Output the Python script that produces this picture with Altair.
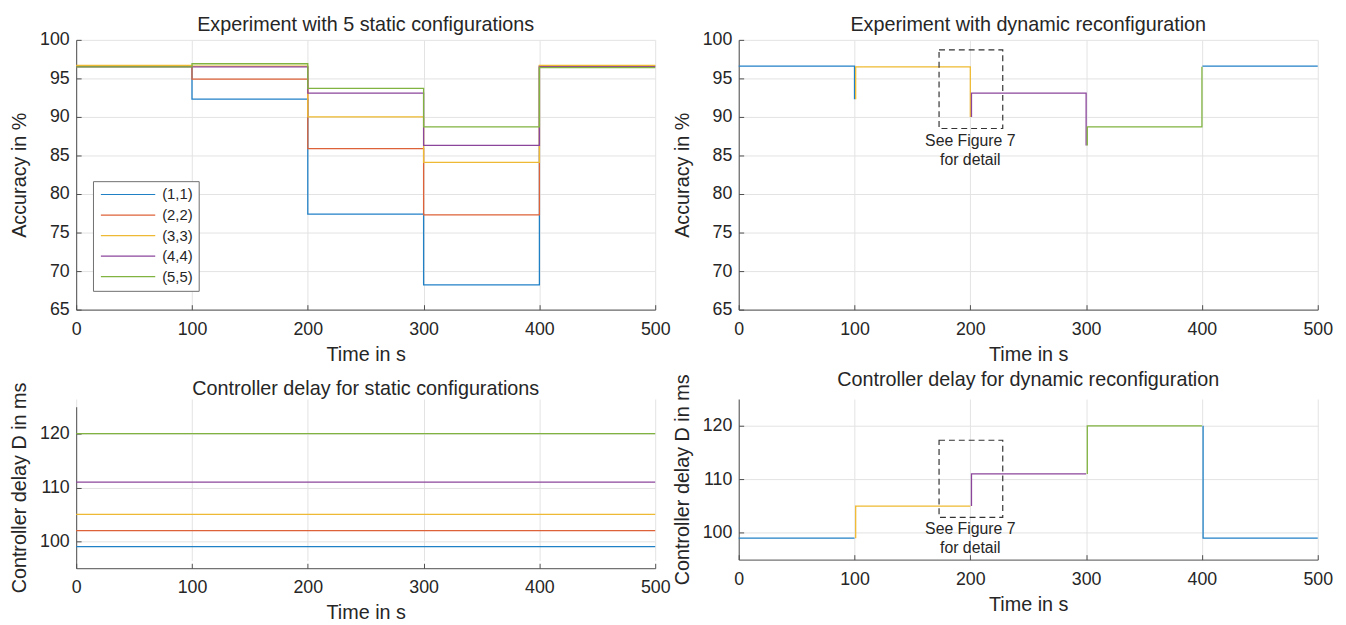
import altair as alt
import pandas as pd

FONT = "Liberation Sans"
TXT = "#262626"
AXC = "#4d4d4d"

configs = ["(1,1)", "(2,2)", "(3,3)", "(4,4)", "(5,5)"]
colors = ["#2080c6", "#dd6238", "#efba33", "#8b469b", "#80b340"]

# phase boundaries in s (last value repeated to close the step)
phase_time = [0, 100, 200, 300, 400, 500]

# accuracy in % per phase, static configurations
acc_11 = [96.6, 92.3, 77.4, 68.2, 96.6, 96.6]
acc_22 = [96.6, 94.9, 85.9, 77.3, 96.6, 96.6]
acc_33 = [96.7, 96.6, 90.0, 84.1, 96.7, 96.7]
acc_44 = [96.5, 96.5, 93.1, 86.3, 96.5, 96.5]
acc_55 = [96.5, 96.9, 93.7, 88.7, 96.4, 96.4]

# controller delay in ms, static configurations
delay_static = [99, 102, 105, 111, 120]
delay_time = [0, 500]

# dynamic reconfiguration: accuracy
dyn_acc_time = [0, 100, 100, 101, 101, 200, 200, 201, 201, 300, 300, 301, 301, 400, 400, 401, 401, 500]
dyn_acc_value = [96.6, 96.6, 92.3, 92.3, 96.5, 96.5, 90.0, 90.0, 93.1, 93.1, 86.3, 86.3, 88.7, 88.7, 96.5, 96.5, 96.6, 96.6]
dyn_acc_cfg = ["(1,1)"] * 3 + ["(3,3)"] * 4 + ["(4,4)"] * 4 + ["(5,5)"] * 4 + ["(1,1)"] * 3
dyn_acc_seg = [0] * 3 + [1] * 4 + [2] * 4 + [3] * 4 + [4] * 3

# dynamic reconfiguration: controller delay
dyn_del_time = [0, 100, 101, 101, 200, 201, 201, 300, 301, 301, 400, 401, 401, 500]
dyn_del_value = [99, 99, 99, 105, 105, 105, 111, 111, 111, 120, 120, 120, 99, 99]
dyn_del_cfg = ["(1,1)"] * 2 + ["(3,3)"] * 3 + ["(4,4)"] * 3 + ["(5,5)"] * 3 + ["(1,1)"] * 3
dyn_del_seg = [0] * 2 + [1] * 3 + [2] * 3 + [3] * 3 + [4] * 3

# "See Figure 7" annotation boxes
box_x = [173, 228]
box_acc_y = [88.5, 98.7]
box_del_y = [102.9, 117.3]
note_lines = ["See Figure 7", "for detail"]
note_x = 200
note_acc_y = 86.9
note_del_y = 100.7

x_ticks = [0, 100, 200, 300, 400, 500]
acc_ticks = [65, 70, 75, 80, 85, 90, 95, 100]
del_ticks = [100, 110, 120]

W = 586
H_TOP = 273
H_BR = 162.5
BL_SHIFT = 7.8
H_BL = 163.4 + BL_SHIFT

LBL = 18
TTL = 20
LW = 1.3

acc_rows = []
for cfg, vals in zip(configs, [acc_11, acc_22, acc_33, acc_44, acc_55]):
    for t, v in zip(phase_time, vals):
        acc_rows.append({"t": t, "v": v, "cfg": cfg})
acc_df = pd.DataFrame(acc_rows)

del_rows = []
for cfg, v in zip(configs, delay_static):
    for t in delay_time:
        del_rows.append({"t": t, "v": v, "cfg": cfg})
del_df = pd.DataFrame(del_rows)

dyn_acc_df = pd.DataFrame({"t": dyn_acc_time, "v": dyn_acc_value, "cfg": dyn_acc_cfg,
                           "seg": dyn_acc_seg, "i": list(range(len(dyn_acc_time)))})
dyn_del_df = pd.DataFrame({"t": dyn_del_time, "v": dyn_del_value, "cfg": dyn_del_cfg,
                           "seg": dyn_del_seg, "i": list(range(len(dyn_del_time)))})

XSC = dict(domain=[0, 500], nice=False, zero=False)


def xenc(field="t"):
    return alt.X(f"{field}:Q", scale=alt.Scale(**XSC),
                 axis=alt.Axis(values=x_ticks, title="Time in s"))


def ysc(domain, rng=None):
    if rng is None:
        return alt.Scale(domain=domain, nice=False, zero=False)
    return alt.Scale(domain=domain, nice=False, zero=False, range=rng)


def yenc(field, domain, ticks, title, rng=None):
    return alt.Y(f"{field}:Q", scale=ysc(domain, rng), axis=alt.Axis(values=ticks, title=title))


def cenc(legend=None):
    if legend is None:
        return alt.Color("cfg:N", scale=alt.Scale(domain=configs, range=colors), legend=None)
    return alt.Color("cfg:N", scale=alt.Scale(domain=configs, range=colors), legend=legend)


def ttl(text, offset):
    return alt.TitleParams(text, font=FONT, fontSize=TTL, fontWeight="normal", color=TXT,
                           anchor="middle", frame="group", baseline="alphabetic", offset=offset)


def inward_ticks(df, domain, ticks, height, rng=None):
    """Invisible layer whose only purpose is to carry MATLAB-style inward tick marks."""
    return alt.Chart(df).mark_line(opacity=0).encode(
        x=alt.X("t:Q", scale=alt.Scale(**XSC),
                axis=alt.Axis(orient="top", offset=-height, values=x_ticks, labels=False,
                              domain=False, grid=False, ticks=True, tickSize=5,
                              tickColor=AXC, title=None)),
        y=alt.Y("v:Q", scale=ysc(domain, rng),
                axis=alt.Axis(orient="right", offset=-W, values=ticks, labels=False,
                              domain=False, grid=False, ticks=True, tickSize=5,
                              tickColor=AXC, title=None)),
    )


legend = alt.Legend(orient="none", legendX=17, legendY=143, title=None,
                    symbolType="M-1,0H9", symbolSize=121, symbolStrokeWidth=1.2,
                    labelFont=FONT, labelFontSize=15, labelColor=TXT, labelOffset=49,
                    strokeColor="#6e6e6e", fillColor="white", padding=6, rowPadding=4.8)

ACC_TITLE = "Accuracy in %"
DEL_TITLE = "Controller delay D in ms"

# Top-left
tl_line = alt.Chart(acc_df).mark_line(interpolate="step-after", strokeWidth=LW).encode(
    x=xenc(), y=yenc("v", [65, 100], acc_ticks, ACC_TITLE), color=cenc(legend),
    detail="cfg:N")
tl = alt.layer(tl_line, inward_ticks(acc_df, [65, 100], acc_ticks, H_TOP)).resolve_axis(
    x="independent", y="independent").properties(
    width=W, height=H_TOP, title=ttl("Experiment with 5 static configurations", -20))

# Top-right
tr_line = alt.Chart(dyn_acc_df).mark_line(strokeWidth=LW).encode(
    x=xenc(), y=yenc("v", [65, 100], acc_ticks, ACC_TITLE), color=cenc(),
    detail="seg:N", order="i:Q")
tr_box = alt.Chart(pd.DataFrame({"x": [box_x[0]], "x2": [box_x[1]], "y": [box_acc_y[0]], "y2": [box_acc_y[1]]})).mark_rect(
    fillOpacity=0, stroke="#333333", strokeWidth=1.2, strokeDash=[6, 4]).encode(
    x=xenc("x"), x2="x2:Q", y=yenc("y", [65, 100], acc_ticks, ACC_TITLE), y2="y2:Q")
tr_note = alt.Chart(pd.DataFrame({"x": [note_x], "y": [note_acc_y]})).mark_text(
    text=note_lines, font=FONT, fontSize=16, color=TXT, align="center", baseline="middle", lineHeight=19).encode(
    x=xenc("x"), y=yenc("y", [65, 100], acc_ticks, ACC_TITLE))
tr_main = alt.layer(tr_line, tr_box, tr_note)
tr = alt.layer(tr_main, inward_ticks(dyn_acc_df, [65, 100], acc_ticks, H_TOP)).resolve_axis(
    x="independent", y="independent").properties(
    width=W, height=H_TOP, title=ttl("Experiment with dynamic reconfiguration", -20))

# Bottom-left (plot region shifted down inside its cell)
bl_rng = [H_BL, BL_SHIFT]
bl_line = alt.Chart(del_df).mark_line(strokeWidth=LW).encode(
    x=xenc(), y=yenc("v", [95, 125], del_ticks, DEL_TITLE, bl_rng), color=cenc(), detail="cfg:N")
bl = alt.layer(bl_line, inward_ticks(del_df, [95, 125], del_ticks, H_BL, bl_rng)).resolve_axis(
    x="independent", y="independent").properties(
    width=W, height=H_BL, title=ttl("Controller delay for static configurations", -33))

# Bottom-right
br_line = alt.Chart(dyn_del_df).mark_line(strokeWidth=LW).encode(
    x=xenc(), y=yenc("v", [95, 125], del_ticks, DEL_TITLE), color=cenc(),
    detail="seg:N", order="i:Q")
br_box = alt.Chart(pd.DataFrame({"x": [box_x[0]], "x2": [box_x[1]], "y": [box_del_y[0]], "y2": [box_del_y[1]]})).mark_rect(
    fillOpacity=0, stroke="#333333", strokeWidth=1.2, strokeDash=[6, 4]).encode(
    x=xenc("x"), x2="x2:Q", y=yenc("y", [95, 125], del_ticks, DEL_TITLE), y2="y2:Q")
br_note = alt.Chart(pd.DataFrame({"x": [note_x], "y": [note_del_y]})).mark_text(
    text=note_lines, font=FONT, fontSize=16, color=TXT, align="center", baseline="middle", lineHeight=19).encode(
    x=xenc("x"), y=yenc("y", [95, 125], del_ticks, DEL_TITLE))
br_main = alt.layer(br_line, br_box, br_note)
br = alt.layer(br_main, inward_ticks(dyn_del_df, [95, 125], del_ticks, H_BR)).resolve_axis(
    x="independent", y="independent").properties(
    width=W, height=H_BR, title=ttl("Controller delay for dynamic reconfiguration", -32))

chart = alt.concat(tl, tr, bl, br, columns=2, spacing={"row": 90.5, "column": 84.5},
                   bounds="flush").resolve_scale(color="independent").resolve_legend(
    color="independent").properties(
    padding={"left": 1, "top": 3.5, "right": 5, "bottom": 5}
).configure_view(stroke=None).configure_axis(
    domainColor=AXC, domainWidth=1, gridColor="#e3e3e3", gridWidth=1,
    labelColor=TXT, labelFont=FONT, labelFontSize=LBL, titleFont=FONT, titleFontSize=TTL,
    titleColor=TXT, titleFontWeight="normal", ticks=False
).configure_axisY(labelPadding=7, titlePadding=10).configure_axisX(
    labelPadding=11, titlePadding=6, labelFlush=False)

chart.save("out.html", embed_options={"renderer": "svg", "actions": False})
